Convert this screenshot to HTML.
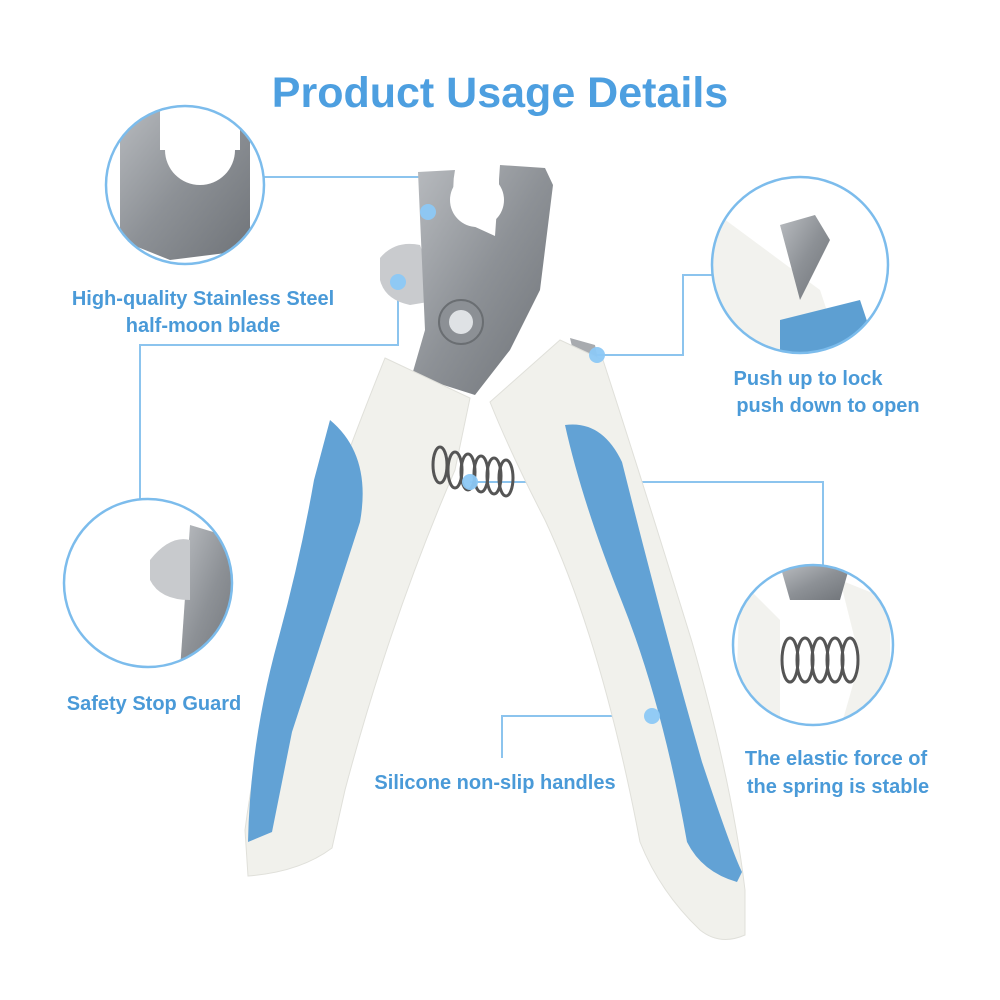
<!DOCTYPE html>
<html><head><meta charset="utf-8"><style>
html,body{margin:0;padding:0;background:#fff}
svg{display:block}
text{font-family:"Liberation Sans",sans-serif;font-weight:bold;fill:#4a9ad8}
</style></head><body>
<svg width="1000" height="1000" viewBox="0 0 1000 1000">
<defs>
<linearGradient id="steel" x1="0" y1="0" x2="1" y2="1">
<stop offset="0" stop-color="#b9bcc0"/><stop offset="0.5" stop-color="#8d9196"/><stop offset="1" stop-color="#6f7378"/></linearGradient>
<clipPath id="c1"><circle cx="185" cy="185" r="79"/></clipPath>
<clipPath id="c2"><circle cx="800" cy="265" r="88"/></clipPath>
<clipPath id="c3"><circle cx="148" cy="583" r="84"/></clipPath>
<clipPath id="c4"><circle cx="813" cy="645" r="80"/></clipPath>
</defs>
<text x="500" y="107" text-anchor="middle" font-size="43" style="fill:#4d9fe0">Product Usage Details</text>

<!-- connectors -->
<g stroke="#8cc4ee" stroke-width="2" fill="none">
<polyline points="264,177 425,177 425,210"/>
<polyline points="398,282 398,345 140,345 140,499"/>
<polyline points="593,355 683,355 683,275 712,275"/>
<polyline points="470,482 823,482 823,566"/>
<polyline points="652,716 502,716 502,758"/>
</g>

<!-- circles -->
<g clip-path="url(#c1)">
<rect x="100" y="100" width="170" height="170" fill="#fff"/>
<path d="M120,100 L250,100 L250,250 L170,260 L120,240 Z" fill="url(#steel)"/>
<circle cx="200" cy="150" r="35" fill="#fff"/>
<rect x="160" y="100" width="80" height="50" fill="#fff"/>
</g>
<circle cx="185" cy="185" r="79" fill="none" stroke="#7cbcec" stroke-width="2.5"/>

<g clip-path="url(#c2)">
<rect x="710" y="175" width="180" height="180" fill="#fff"/>
<path d="M712,210 L820,290 L840,350 L712,350 Z" fill="#f2f2ee"/>
<path d="M780,320 L860,300 L880,360 L780,360Z" fill="#5d9fd2"/>
<path d="M780,225 L815,215 L830,240 L800,300 Z" fill="url(#steel)"/>
</g>
<circle cx="800" cy="265" r="88" fill="none" stroke="#7cbcec" stroke-width="2.5"/>

<g clip-path="url(#c3)">
<rect x="60" y="498" width="180" height="180" fill="#fff"/>
<path d="M190,525 L240,540 L240,670 L180,670 Z" fill="url(#steel)"/>
<path d="M150,560 Q170,535 190,540 L190,600 Q160,600 150,580Z" fill="#c8cacd"/>
</g>
<circle cx="148" cy="583" r="84" fill="none" stroke="#7cbcec" stroke-width="2.5"/>

<g clip-path="url(#c4)">
<rect x="730" y="565" width="170" height="170" fill="#fff"/>
<path d="M740,580 L780,620 L780,730 L735,730Z" fill="#f2f2ee"/>
<path d="M840,580 L890,600 L890,730 L840,730 L860,660Z" fill="#f2f2ee"/>
<path d="M780,565 L850,565 L840,600 L790,600Z" fill="url(#steel)"/>
<g fill="none" stroke="#555" stroke-width="3">
<ellipse cx="790" cy="660" rx="8" ry="22"/><ellipse cx="805" cy="660" rx="8" ry="22"/><ellipse cx="820" cy="660" rx="8" ry="22"/><ellipse cx="835" cy="660" rx="8" ry="22"/><ellipse cx="850" cy="660" rx="8" ry="22"/></g>
</g>
<circle cx="813" cy="645" r="80" fill="none" stroke="#7cbcec" stroke-width="2.5"/>

<!-- clipper -->
<path d="M380,258 Q395,240 420,245 L440,300 L410,305 Q385,300 380,280Z" fill="#c9cbce"/>
<path d="M418,172 L455,170 Q450,195 460,220 L495,236 L500,165 L545,168 L553,185 L540,290 L510,350 L475,395 L412,375 L425,330 Z" fill="url(#steel)"/>
<circle cx="477" cy="200" r="27" fill="#fff"/>
<rect x="455" y="160" width="44" height="40" fill="#fff"/>
<circle cx="461" cy="322" r="22" fill="#8c9095" stroke="#6a6e72" stroke-width="2"/>
<circle cx="461" cy="322" r="12" fill="#dfe2e5"/>
<path d="M570,338 L595,345 L600,370 L580,380Z" fill="#a8abaf"/>

<path d="M385,358 L470,398 L455,470 Q390,620 345,790 L332,848 Q300,872 248,876 L245,830 Q262,700 310,560 Q340,470 385,358Z" fill="#f1f1ec" stroke="#e0e0da"/>
<path d="M330,420 Q372,455 360,522 Q322,640 292,732 L272,832 L248,842 Q250,742 278,640 Q300,560 314,480Z" fill="#62a2d5"/>

<path d="M490,402 L560,340 L603,360 Q642,480 692,642 Q732,782 745,890 L745,935 Q720,946 700,930 Q660,892 640,842 Q602,642 545,520 Q510,452 490,402Z" fill="#f1f1ec" stroke="#e0e0da"/>
<path d="M565,425 Q602,420 622,462 Q662,622 702,762 Q732,852 742,872 L737,882 Q702,872 687,842 Q662,702 622,602 Q582,502 565,425Z" fill="#62a2d5"/>

<g fill="none" stroke="#555" stroke-width="3">
<ellipse cx="440" cy="465" rx="7" ry="18"/><ellipse cx="455" cy="470" rx="7" ry="18"/><ellipse cx="468" cy="472" rx="7" ry="18"/><ellipse cx="481" cy="474" rx="7" ry="18"/><ellipse cx="494" cy="476" rx="7" ry="18"/><ellipse cx="506" cy="478" rx="7" ry="18"/></g>

<!-- dots -->
<g fill="#8cc8f5" opacity="0.95">
<circle cx="428" cy="212" r="8"/><circle cx="398" cy="282" r="8"/><circle cx="597" cy="355" r="8"/><circle cx="470" cy="482" r="8"/><circle cx="652" cy="716" r="8"/></g>

<!-- labels -->
<g font-size="20">
<text x="203" y="305" text-anchor="middle">High-quality Stainless Steel</text>
<text x="203" y="332" text-anchor="middle">half-moon blade</text>
<text x="808" y="385" text-anchor="middle">Push up to lock</text>
<text x="828" y="412" text-anchor="middle">push down to open</text>
<text x="154" y="710" text-anchor="middle">Safety Stop Guard</text>
<text x="495" y="789" text-anchor="middle">Silicone non-slip handles</text>
<text x="836" y="765" text-anchor="middle">The elastic force of</text>
<text x="838" y="793" text-anchor="middle">the spring is stable</text>
</g>
</svg>
</body></html>
